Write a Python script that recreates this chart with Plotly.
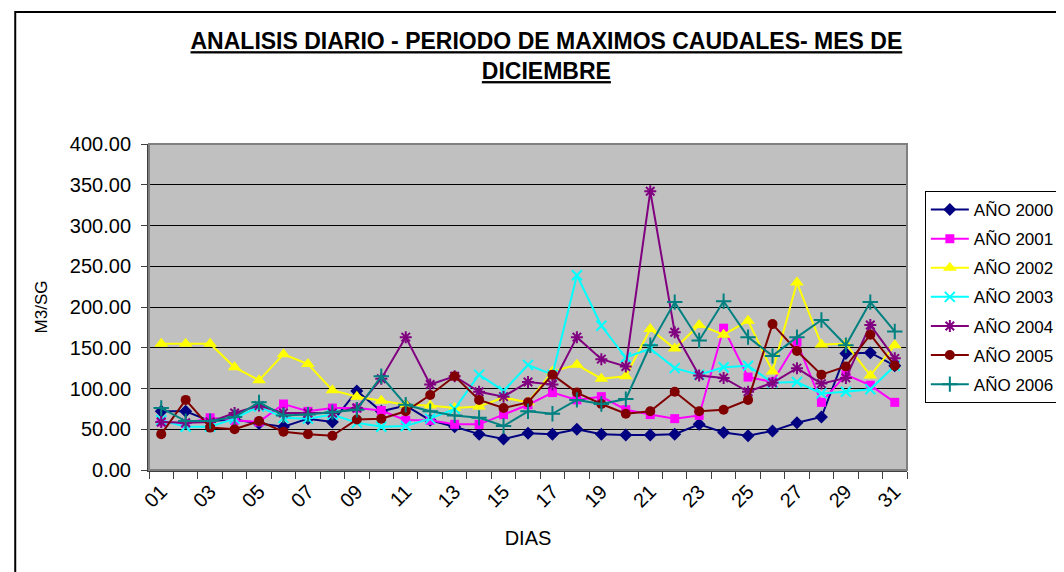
import plotly.graph_objects as go

# ---------- data ----------

days = list(range(1, 32))
day_labels = [f"{d:02d}" for d in days]

anio_2000 = [72, 72, 60, 62, 57, 53, 63, 59, 97, 72, 79, 61, 53, 44, 38, 45,
             44, 50, 44, 43, 43, 44, 56, 46, 42, 48, 58, 65, 143, 144, 128]
anio_2001 = [59, 57, 64, 61, 59, 81, 72, 76, 76, 73, 61, 61, 56, 56, 68, 80,
             95, 86, 90, 74, 68, 63, 67, 174, 114, 108, 157, 83, 117, 104, 83]
anio_2002 = [155, 155, 155, 126, 110, 142, 130, 98, 90, 85, 80, 79, 76, 78, 89, 83,
             121, 129, 112, 115, 173, 149, 178, 166, 183, 121, 230, 154, 155, 116, 153]
anio_2003 = [61, 53, 53, 63, 78, 64, 63, 68, 58, 53, 54, 63, 75, 117, 97, 129,
             117, 239, 177, 138, 149, 125, 117, 126, 128, 107, 108, 94, 96, 99, 128]
anio_2004 = [59, 58, 59, 70, 79, 70, 70, 70, 76, 112, 163, 105, 115, 96, 90, 108,
             105, 163, 136, 127, 342, 169, 116, 113, 96, 107, 125, 106, 113, 178, 137]
anio_2005 = [44, 86, 52, 50, 60, 47, 44, 42, 62, 63, 72, 92, 115, 86, 76, 83,
             117, 95, 81, 69, 72, 96, 72, 74, 86, 179, 146, 117, 127, 166, 128]
anio_2006 = [76, 60, 60, 65, 83, 67, 68, 71, 74, 115, 80, 72, 67, 64, 54, 72,
             69, 86, 81, 87, 153, 206, 159, 207, 163, 140, 163, 184, 153, 206, 170]

series_names = ["AÑO 2000", "AÑO 2001", "AÑO 2002", "AÑO 2003",
                "AÑO 2004", "AÑO 2005", "AÑO 2006"]
series_values = [anio_2000, anio_2001, anio_2002, anio_2003,
                 anio_2004, anio_2005, anio_2006]

# ---------- styling ----------

COLORS = ["#000080", "#FF00FF", "#FFFF00", "#00FFFF", "#800080", "#800000", "#008080"]
MARKERS = [
    dict(symbol="diamond", size=10),
    dict(symbol="square", size=9),
    dict(symbol="triangle-up", size=12),
    dict(symbol="x-thin-open", size=10, line=dict(width=2)),
    dict(symbol="asterisk-open", size=10, line=dict(width=2)),
    dict(symbol="circle", size=10),
    dict(symbol="cross-thin-open", size=11, line=dict(width=2)),
]

FONT = "Arial, Liberation Sans, sans-serif"

W, H = 1064, 572
L, R, T, B = 141, 158, 136, 110


def px_to_paper_x(px):
    return (px - L) / (W - L - R)


def px_to_paper_y(py):
    return (H - B - py) / (H - T - B)


fig = go.Figure()
for i, (name, vals) in enumerate(zip(series_names, series_values)):
    mk = dict(MARKERS[i])
    mk["color"] = COLORS[i]
    if "line" in mk:
        mk["line"] = dict(mk["line"], color=COLORS[i])
    fig.add_trace(go.Scatter(
        x=days, y=vals, name=name, mode="lines+markers",
        line=dict(color=COLORS[i], width=2),
        marker=mk,
        legendgroup=name,  # one group per series -> tracegroupgap sets row spacing
    ))

fig.update_layout(
    width=W, height=H,
    margin=dict(l=L, r=R, t=T, b=B),
    paper_bgcolor="white",
    plot_bgcolor="#C0C0C0",
    font=dict(family=FONT, size=17, color="black"),
    title=dict(
        text="<b><u>ANALISIS DIARIO - PERIODO DE MAXIMOS CAUDALES- MES DE</u></b><br>"
             "<b><u>DICIEMBRE</u></b>",
        x=0.506, xanchor="center", y=0.928, yanchor="top",
        font=dict(family="Liberation Sans Narrow, Arial Narrow, Arial, sans-serif",
                  size=23, color="black"),
    ),
    showlegend=True,
    legend=dict(
        x=px_to_paper_x(924), xanchor="left",
        y=px_to_paper_y(183), yanchor="top",
        bordercolor="black", borderwidth=1, bgcolor="white",
        font=dict(size=17), tracegroupgap=4, itemwidth=38,
    ),
)

fig.update_yaxes(
    range=[0, 400], dtick=50, tickformat=".2f",
    showgrid=True, gridcolor="black", gridwidth=1,
    ticks="outside", ticklen=6, tickcolor="#404040",
    showline=True, linecolor="#404040", linewidth=2,
    zeroline=False, ticklabelstandoff=6,
    title=dict(text="M3/SG", font=dict(size=17), standoff=18),
    tickfont=dict(size=20),
)

fig.update_xaxes(
    range=[0.5, 31.5],
    tickmode="array", tickvals=days[::2], ticktext=day_labels[::2],
    tickangle=-45, ticks="", showgrid=False, zeroline=False,
    showline=True, linecolor="#404040", linewidth=2,
    minor=dict(tickmode="linear", tick0=0.5, dtick=1, ticks="outside",
               ticklen=7, tickcolor="#404040", showgrid=False),
    title=dict(text="DIAS", font=dict(size=20), standoff=20),
    tickfont=dict(size=20),
)

# plot area border and outer chart border
fig.add_shape(type="rect", xref="paper", yref="paper", x0=0, y0=0, x1=1, y1=1,
              line=dict(color="#808080", width=2), layer="above")
fig.add_shape(type="rect", xref="paper", yref="paper",
              x0=px_to_paper_x(6), y0=px_to_paper_y(590),
              x1=px_to_paper_x(1075), y1=px_to_paper_y(4),
              line=dict(color="black", width=2), layer="below")

fig.write_html("out.html")
